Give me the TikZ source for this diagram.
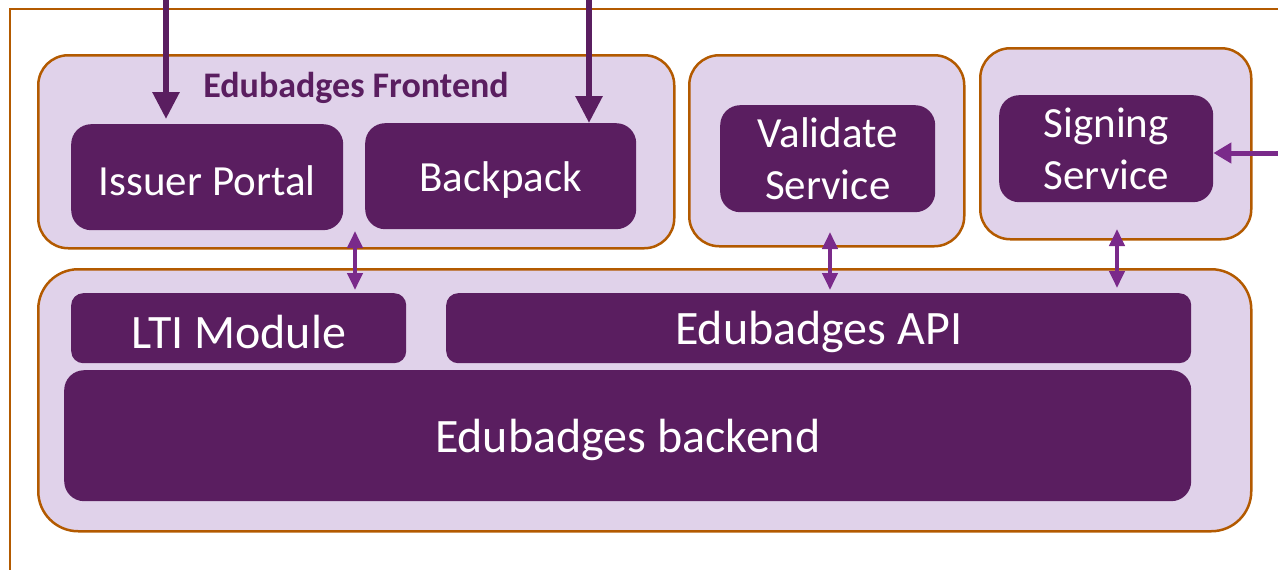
\documentclass[tikz,border=0pt]{standalone}
\usepackage{fontspec}
\setmainfont{Carlito}
\usetikzlibrary{arrows.meta,calc}
\definecolor{lav}{HTML}{E0D2EA}
\definecolor{dpurp}{HTML}{5A1E60}
\definecolor{brn}{HTML}{B35A00}
\definecolor{apurp}{HTML}{7A2A8A}
\newcommand{\lowr}[1]{\raisebox{-4pt}[\height][\depth]{#1}}
\tikzset{
  outerbox/.style={draw=brn, line width=2.5pt, fill=lav, rounded corners=30pt, anchor=north west, inner sep=0pt},
  innerbox/.style={fill=dpurp, rounded corners=20pt, anchor=north west, text=white, inner sep=0pt, align=center, font=\fontsize{43}{52}\selectfont},
  bigtext/.style={font=\fontsize{48}{56}\selectfont},
  bigarrow/.style={draw=dpurp, line width=6pt, -{Triangle[width=26pt,length=27pt]}},
  dblarrow/.style={draw=apurp, line width=4pt, {Triangle[width=15pt,length=17pt]}-{Triangle[width=15pt,length=17pt]}},
  sidearrow/.style={draw=apurp, line width=5pt, -{Triangle[width=20pt,length=18pt]}},
}
\begin{document}
\begin{tikzpicture}[x=1pt,y=-1pt]
\useasboundingbox (0,0) rectangle (1278,570);
% outer frame
\coordinate (fr1) at (1290,9);
\coordinate (fr2) at (10,9);
\coordinate (fr3) at (10,580);
\draw[brn, line width=2.5pt] (fr1) -- (fr2) -- (fr3);
% containers
\node[outerbox, minimum width=636pt, minimum height=193pt] (fe) at (37,54) {};
\node[outerbox, minimum width=275pt, minimum height=191pt] (vs) at (688,54) {};
\node[outerbox, minimum width=271pt, minimum height=191pt] (ss) at (979,47) {};
\node[outerbox, rounded corners=40pt, minimum width=1213pt, minimum height=262pt] (be) at (37,268) {};
% title
\node[text=dpurp, font=\fontsize{36}{40}\selectfont\bfseries] (fet) at (356,88) {Edubadges Frontend};
% inner boxes
\node[innerbox, minimum width=272pt, minimum height=106pt] (ip) at (71,124) {\lowr{Issuer Portal}};
\node[innerbox, minimum width=271pt, minimum height=106pt] (bp) at (365,123) {\lowr{Backpack}};
\node[innerbox, minimum width=215pt, minimum height=107pt] (vsi) at (720,105) {Validate\\Service};
\node[innerbox, minimum width=214pt, minimum height=107pt] (ssi) at (999,95) {Signing\\Service};
\node[innerbox, bigtext, rounded corners=12pt, minimum width=335pt, minimum height=70pt] (lti) at (71,293) {\lowr{LTI Module}};
\node[innerbox, bigtext, rounded corners=12pt, minimum width=745pt, minimum height=70pt] (api) at (446,293) {\lowr{Edubadges API}};
\node[innerbox, bigtext, rounded corners=20pt, minimum width=1127pt, minimum height=131pt] (bk) at (64,370) {\lowr{Edubadges backend}};
% incoming arrows
\coordinate (in1) at (166,0);
\coordinate (in2) at (589,0);
\coordinate (in3) at (1290,153);
\draw[bigarrow] (in1) -- ($(in1 |- ip.north)+(0,-5)$);
\draw[bigarrow] (in2) -- (in2 |- bp.north);
\draw[sidearrow] (in3) -- (in3 -| ssi.east);
% double arrows
\coordinate (d1) at (355,231);
\coordinate (d2) at (830,232);
\coordinate (d3) at (1117,229);
\draw[dblarrow] (d1) -- ($(d1 |- lti.north)+(0,-3)$);
\draw[dblarrow] (d2) -- ($(d2 |- api.north)+(0,-3)$);
\draw[dblarrow] (d3) -- ($(d3 |- api.north)+(0,-5)$);
\end{tikzpicture}
\end{document}
